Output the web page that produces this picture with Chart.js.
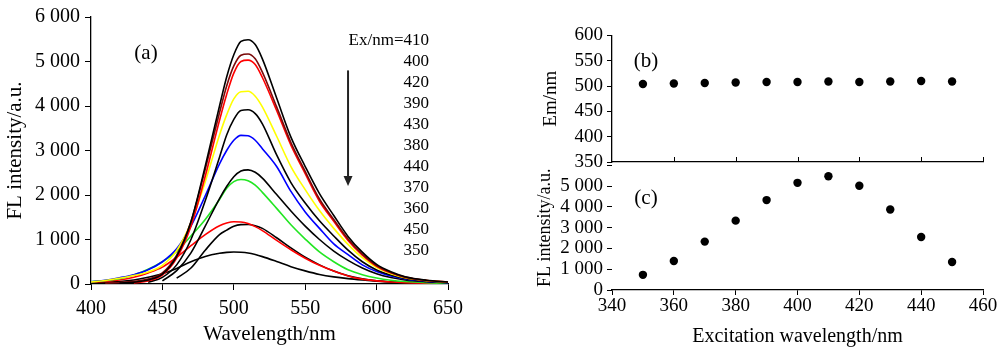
<!DOCTYPE html>
<html>
<head>
<meta charset="utf-8">
<title>Espectros de fluorescencia</title>
<script src="https://cdn.jsdelivr.net/npm/chart.js@4.4.1/dist/chart.umd.min.js"></script>
<style>
    html, body { margin: 0; padding: 0; background: #fff; }
    body {
        width: 1000px; height: 347px; position: relative; overflow: hidden;
        font-family: 'Liberation Serif', 'Times New Roman', serif; color: #000;
    }
    .caja { position: absolute; }
    .etiqueta { position: absolute; line-height: 1; white-space: nowrap; z-index: 5; }
    .panel { font-size: 21px; transform: translate(-50%, -50%); }
    .ex { font-size: 17px; text-align: right; }
</style>
</head>
<body>
<div class="caja" style="left:0;top:0;"><canvas id="espectros" width="470" height="347"></canvas></div>
<div class="caja" style="left:520px;top:20px;"><canvas id="emision" width="480" height="160"></canvas></div>
<div class="caja" style="left:520px;top:150px;"><canvas id="intensidad" width="480" height="197"></canvas></div>

<div class="etiqueta panel" style="left:146px;top:52px;">(a)</div>
<div class="etiqueta panel" style="left:646px;top:60px;">(b)</div>
<div class="etiqueta panel" style="left:646px;top:197px;">(c)</div>
<div id="listaEx"></div>

<script>
// Emission wavelength grid (nm) for the spectra in panel (a)
const wavelengths = [400, 410, 420, 430, 440, 450, 460, 470, 480, 490, 495, 500, 505, 510, 515, 520, 530, 540, 550, 560, 570, 580, 590, 600, 610, 620, 635, 650];

// One spectrum per excitation wavelength (null = not measured yet)
const ex410 = [null, null, 20, 40, 90, 220, 620, 1400, 2650, 4000, 4650, 5150, 5450, 5490, 5380, 5060, 4180, 3300, 2640, 2030, 1540, 1070, 715, 440, 275, 165, 85, 45];
const ex400 = [null, 20, 35, 60, 110, 250, 650, 1400, 2580, 3850, 4450, 4900, 5140, 5170, 5060, 4760, 3980, 3180, 2530, 1910, 1450, 1010, 670, 415, 260, 155, 80, 45];
const ex420 = [null, null, null, 25, 70, 200, 580, 1300, 2420, 3680, 4260, 4740, 5000, 5030, 4930, 4640, 3900, 3120, 2480, 1860, 1410, 980, 650, 400, 250, 150, 80, 45];
const ex390 = [45, 80, 130, 190, 270, 420, 750, 1380, 2300, 3350, 3800, 4160, 4320, 4330, 4220, 3980, 3320, 2640, 2120, 1650, 1250, 890, 590, 370, 230, 140, 75, 40];
const ex430 = [null, null, null, null, 40, 150, 430, 1000, 1870, 2850, 3350, 3700, 3900, 3915, 3830, 3600, 2900, 2280, 1820, 1420, 1080, 760, 500, 315, 200, 125, 65, 35];
const ex380 = [50, 85, 140, 210, 320, 500, 790, 1300, 1980, 2700, 3000, 3230, 3340, 3330, 3230, 3040, 2640, 2080, 1620, 1250, 900, 660, 430, 280, 180, 115, 60, 30];
const ex440 = [null, null, null, null, null, 70, 300, 700, 1300, 1920, 2190, 2410, 2540, 2565, 2510, 2380, 2010, 1640, 1300, 1000, 740, 530, 360, 230, 145, 90, 50, 25];
const ex370 = [50, 80, 120, 200, 330, 500, 730, 1080, 1450, 1900, 2150, 2300, 2350, 2320, 2220, 2060, 1700, 1330, 1010, 720, 500, 320, 210, 135, 85, 55, 30, 15];
const ex360 = [40, 60, 90, 150, 250, 380, 600, 860, 1110, 1310, 1370, 1400, 1395, 1360, 1290, 1200, 980, 770, 580, 420, 290, 180, 110, 70, 45, 30, 18, 10];
const ex450 = [null, null, null, null, null, null, 130, 360, 760, 1110, 1210, 1300, 1335, 1338, 1310, 1250, 1040, 810, 600, 430, 290, 185, 115, 72, 46, 30, 18, 10];
const ex350 = [30, 40, 55, 90, 150, 230, 350, 500, 620, 690, 710, 720, 715, 698, 662, 615, 505, 390, 295, 215, 160, 120, 90, 65, 45, 32, 20, 12];

// Order of the labels in panel (a), top to bottom
const exOrder = [410, 400, 420, 390, 430, 380, 440, 370, 360, 450, 350];

// Panels (b) and (c)
const exWavelengths = [350, 360, 370, 380, 390, 400, 410, 420, 430, 440, 450];
const emPeaks = [504, 505, 506, 507, 508, 508, 509, 508, 509, 510, 509];
const flPeaks = [730, 1400, 2330, 3340, 4330, 5160, 5480, 5020, 3880, 2550, 1350];

const spectra = { 410: ex410, 400: ex400, 420: ex420, 390: ex390, 430: ex430, 380: ex380, 440: ex440, 370: ex370, 360: ex360, 450: ex450, 350: ex350 };
const curveColors = { 410: '#000000', 400: '#7a0a0a', 420: '#ff0000', 390: '#ffff00', 430: '#000000', 380: '#0000ff', 440: '#000000', 370: '#22e622', 360: '#ff0000', 450: '#000000', 350: '#000000' };

document.addEventListener('DOMContentLoaded', function () {
    Chart.defaults.font.family = "'Liberation Serif', 'Times New Roman', serif";
    Chart.defaults.color = '#000';

    // "6 000" style numbers
    function miles(v) {
        if (v < 1000) return String(v);
        return Math.floor(v / 1000) + ' ' + String(v % 1000).padStart(3, '0');
    }

    function marcas(largo) {
        return { display: true, drawOnChartArea: false, drawTicks: true, tickLength: largo, color: '#000', lineWidth: 1 };
    }
    const borde = { display: true, color: '#000', width: 1.3 };

    // Labels list next to the curves
    const lista = document.getElementById('listaEx');
    exOrder.forEach((ex, i) => {
        const div = document.createElement('div');
        div.className = 'etiqueta ex';
        div.style.right = (1000 - 429) + 'px';
        div.style.top = (39 + 21 * i - 8) + 'px';
        div.textContent = i === 0 ? 'Ex/nm=' + ex : String(ex);
        lista.appendChild(div);
    });

    // Arrow going down, placed with the chart scales
    const flecha = {
        id: 'flecha',
        afterDatasetsDraw(chart) {
            const { ctx, scales } = chart;
            const x = scales.x.getPixelForValue(580);
            const y1 = scales.y.getPixelForValue(4800);
            const y2 = scales.y.getPixelForValue(2200);
            ctx.save();
            ctx.strokeStyle = '#222';
            ctx.fillStyle = '#222';
            ctx.lineWidth = 2;
            ctx.beginPath();
            ctx.moveTo(x, y1);
            ctx.lineTo(x, y2 - 8);
            ctx.stroke();
            ctx.beginPath();
            ctx.moveTo(x - 4.5, y2 - 10);
            ctx.lineTo(x + 4.5, y2 - 10);
            ctx.lineTo(x, y2);
            ctx.closePath();
            ctx.fill();
            ctx.restore();
        }
    };

    const datasets = exOrder.map(ex => ({
        label: 'Ex ' + ex,
        data: wavelengths.map((x, i) => ({ x: x, y: spectra[ex][i] })).filter(p => p.y !== null),
        borderColor: curveColors[ex],
        borderWidth: 1.6,
        pointRadius: 0,
        fill: false,
        cubicInterpolationMode: 'monotone'
    }));

    new Chart(document.getElementById('espectros'), {
        type: 'line',
        data: { datasets: datasets },
        options: {
            responsive: false,
            animation: false,
            layout: { padding: { left: 0, top: 16, right: 20, bottom: 0 } },
            plugins: { legend: { display: false }, tooltip: { enabled: false } },
            scales: {
                x: {
                    type: 'linear', min: 400, max: 650,
                    ticks: { stepSize: 50, autoSkip: false, maxRotation: 0, padding: 7, font: { size: 20 } },
                    grid: marcas(6), border: borde,
                    title: { display: true, text: 'Wavelength/nm', font: { size: 21 }, padding: { top: 0, bottom: 0 } },
                    afterFit: s => { s.height = 63; }
                },
                y: {
                    min: 0, max: 6000,
                    ticks: { stepSize: 1000, autoSkip: false, padding: 5, font: { size: 20 }, callback: v => miles(v) },
                    grid: marcas(6), border: borde,
                    title: { display: true, text: 'FL intensity/a.u.', font: { size: 21 }, padding: { top: 3, bottom: 0 } },
                    afterFit: s => { s.width = 91; }
                }
            }
        },
        plugins: [flecha]
    });

    // Ticks on the shared axis of (b) point up into the panel
    const marcasInternas = {
        id: 'marcasInternas',
        afterDraw(chart) {
            const { ctx, scales, chartArea } = chart;
            ctx.save();
            ctx.strokeStyle = '#000';
            ctx.lineWidth = 1;
            scales.x.ticks.forEach(t => {
                if (t.value <= 340) return;
                const px = Math.round(scales.x.getPixelForValue(t.value)) + 0.5;
                ctx.beginPath();
                ctx.moveTo(px, chartArea.bottom);
                ctx.lineTo(px, chartArea.bottom - 5);
                ctx.stroke();
            });
            ctx.restore();
        }
    };

    new Chart(document.getElementById('emision'), {
        type: 'scatter',
        data: {
            datasets: [{
                data: exWavelengths.map((x, i) => ({ x: x, y: emPeaks[i] })),
                backgroundColor: '#000', borderColor: '#000', borderWidth: 0, pointRadius: 4.2
            }]
        },
        options: {
            responsive: false,
            animation: false,
            layout: { padding: { left: 0, top: 15, right: 17, bottom: 0 } },
            plugins: { legend: { display: false }, tooltip: { enabled: false } },
            scales: {
                x: {
                    type: 'linear', min: 340, max: 460,
                    ticks: { stepSize: 20, display: false },
                    grid: { display: false }, border: borde,
                    afterFit: s => { s.height = 18; }
                },
                y: {
                    min: 350, max: 600,
                    ticks: { stepSize: 50, autoSkip: false, padding: 4, font: { size: 19 } },
                    grid: marcas(5), border: borde,
                    title: { display: true, text: 'Em/nm', font: { size: 19 }, padding: { top: 20, bottom: 0 } },
                    afterFit: s => { s.width = 92; }
                }
            }
        },
        plugins: [marcasInternas]
    });

    new Chart(document.getElementById('intensidad'), {
        type: 'scatter',
        data: {
            datasets: [{
                data: exWavelengths.map((x, i) => ({ x: x, y: flPeaks[i] })),
                backgroundColor: '#000', borderColor: '#000', borderWidth: 0, pointRadius: 4.2
            }]
        },
        options: {
            responsive: false,
            animation: false,
            layout: { padding: { left: 0, top: 12, right: 17, bottom: 0 } },
            plugins: { legend: { display: false }, tooltip: { enabled: false } },
            scales: {
                x: {
                    type: 'linear', min: 340, max: 460,
                    ticks: { stepSize: 20, autoSkip: false, maxRotation: 0, padding: 0, font: { size: 19 } },
                    grid: marcas(5), border: borde,
                    title: { display: true, text: 'Excitation wavelength/nm', font: { size: 20 }, padding: { top: 0, bottom: -2 } },
                    afterFit: s => { s.height = 57; }
                },
                y: {
                    min: 0, max: 6000,
                    ticks: { stepSize: 1000, autoSkip: false, padding: 4, font: { size: 19 }, callback: v => (v === 6000 ? '' : miles(v)) },
                    grid: marcas(5), border: { display: false },
                    title: { display: true, text: 'FL intensity/a.u.', font: { size: 18 }, padding: { top: 14, bottom: 0 } },
                    afterFit: s => { s.width = 92; }
                }
            }
        }
    });
});
</script>
</body>
</html>
